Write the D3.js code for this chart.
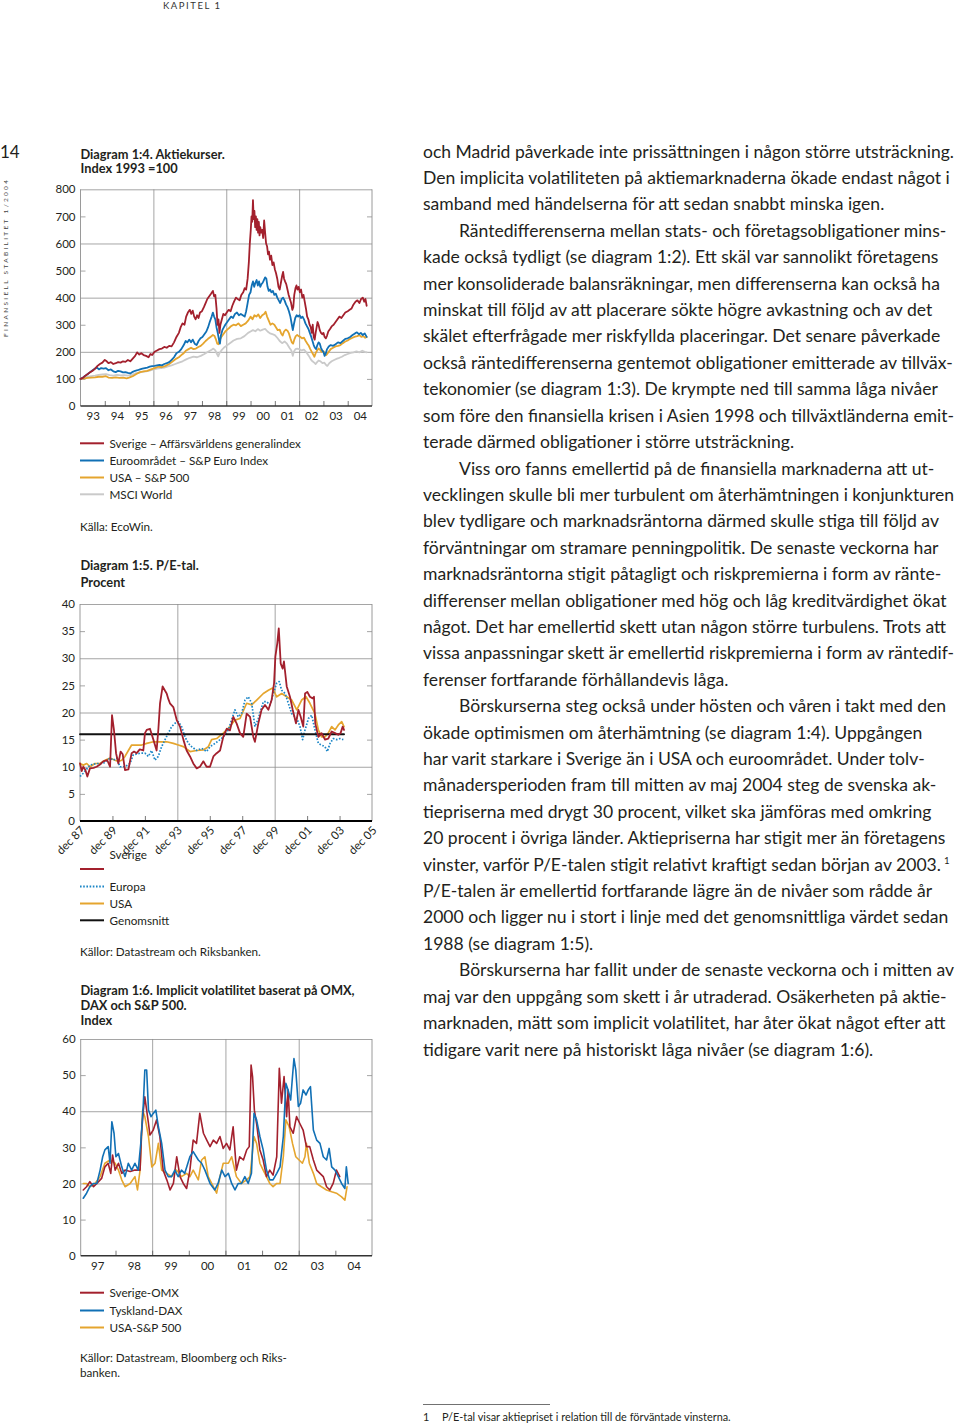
<!DOCTYPE html>
<html><head><meta charset="utf-8">
<script src="https://cdn.jsdelivr.net/npm/d3@7"></script>
<style>
body{margin:0;background:#fff;}
svg{display:block;}
</style></head><body>
<svg id="page" width="960" height="1427"></svg>
<script>
// ---------------- DATA ----------------
// Diagram 1:4 Aktiekurser (Index 1993 = 100) — [decimal year, index]
const c1XLabels = ["93","94","95","96","97","98","99","00","01","02","03","04"];
const c1YLabels = [0,100,200,300,400,500,600,700,800];
const sverigeIdx = [[1993.00,100],[1993.10,104],[1993.20,112],[1993.30,118],[1993.40,125],[1993.50,130],[1993.60,138],[1993.70,148],[1993.80,155],[1993.90,160],[1994.00,170],[1994.08,165],[1994.15,158],[1994.25,162],[1994.35,155],[1994.45,158],[1994.55,162],[1994.65,160],[1994.75,165],[1994.85,163],[1994.95,170],[1995.05,165],[1995.15,175],[1995.25,185],[1995.33,198],[1995.42,190],[1995.50,195],[1995.60,188],[1995.70,185],[1995.80,180],[1995.88,192],[1995.95,188],[1996.05,200],[1996.15,205],[1996.25,210],[1996.35,212],[1996.45,218],[1996.55,215],[1996.65,222],[1996.75,220],[1996.85,235],[1996.95,255],[1997.05,270],[1997.12,290],[1997.20,305],[1997.28,300],[1997.35,330],[1997.42,345],[1997.50,355],[1997.56,340],[1997.62,352],[1997.68,330],[1997.74,320],[1997.80,335],[1997.86,325],[1997.92,345],[1998.00,350],[1998.08,365],[1998.15,380],[1998.22,395],[1998.30,405],[1998.38,415],[1998.45,425],[1998.50,405],[1998.55,410],[1998.60,360],[1998.64,300],[1998.68,320],[1998.72,270],[1998.76,300],[1998.82,320],[1998.88,340],[1998.95,335],[1999.02,345],[1999.10,355],[1999.18,350],[1999.25,370],[1999.32,385],[1999.40,400],[1999.47,395],[1999.55,390],[1999.62,410],[1999.70,420],[1999.76,435],[1999.82,430],[1999.88,470],[1999.93,530],[1999.97,600],[2000.01,650],[2000.04,700],[2000.07,680],[2000.10,760],[2000.13,690],[2000.16,720],[2000.19,660],[2000.22,700],[2000.25,650],[2000.28,690],[2000.31,640],[2000.34,680],[2000.37,630],[2000.40,660],[2000.44,640],[2000.48,650],[2000.52,620],[2000.56,685],[2000.60,640],[2000.64,600],[2000.68,590],[2000.72,560],[2000.76,570],[2000.80,540],[2000.85,555],[2000.90,520],[2000.95,530],[2001.00,505],[2001.05,490],[2001.10,470],[2001.15,440],[2001.20,430],[2001.25,455],[2001.30,480],[2001.34,495],[2001.38,470],[2001.42,460],[2001.47,450],[2001.52,430],[2001.57,410],[2001.62,395],[2001.67,380],[2001.72,355],[2001.76,365],[2001.80,410],[2001.85,435],[2001.89,445],[2001.93,430],[2001.98,440],[2002.03,420],[2002.08,430],[2002.13,400],[2002.18,410],[2002.23,385],[2002.28,360],[2002.33,330],[2002.38,320],[2002.43,300],[2002.48,290],[2002.52,270],[2002.56,300],[2002.60,255],[2002.64,245],[2002.68,270],[2002.72,290],[2002.76,310],[2002.80,300],[2002.85,280],[2002.90,270],[2002.95,265],[2003.00,270],[2003.05,255],[2003.10,250],[2003.15,260],[2003.20,275],[2003.28,285],[2003.35,295],[2003.42,300],[2003.50,310],[2003.58,320],[2003.66,330],[2003.74,325],[2003.82,335],[2003.90,345],[2004.00,350],[2004.08,355],[2004.16,360],[2004.24,375],[2004.32,385],[2004.40,390],[2004.48,380],[2004.55,395],[2004.62,400],[2004.68,385],[2004.73,395],[2004.78,370]];
const euroIdx = [[1993.00,100],[1993.10,105],[1993.20,112],[1993.30,118],[1993.40,125],[1993.50,132],[1993.60,138],[1993.68,142],[1993.76,135],[1993.85,140],[1993.95,138],[1994.05,140],[1994.15,132],[1994.25,135],[1994.35,128],[1994.45,125],[1994.55,130],[1994.65,128],[1994.75,124],[1994.85,125],[1994.95,122],[1995.05,120],[1995.15,126],[1995.25,130],[1995.35,132],[1995.45,135],[1995.55,138],[1995.65,140],[1995.75,142],[1995.85,145],[1995.95,147],[1996.05,148],[1996.15,150],[1996.25,152],[1996.35,150],[1996.45,155],[1996.55,158],[1996.65,162],[1996.75,170],[1996.85,180],[1996.95,195],[1997.05,200],[1997.15,210],[1997.25,225],[1997.33,240],[1997.40,235],[1997.48,245],[1997.55,235],[1997.62,245],[1997.70,230],[1997.78,225],[1997.86,240],[1997.94,250],[1998.02,255],[1998.10,265],[1998.18,275],[1998.25,290],[1998.32,310],[1998.40,330],[1998.45,345],[1998.50,330],[1998.55,320],[1998.60,290],[1998.65,270],[1998.70,245],[1998.74,230],[1998.78,260],[1998.84,280],[1998.90,290],[1998.96,300],[1999.04,310],[1999.12,320],[1999.20,330],[1999.28,325],[1999.36,340],[1999.44,345],[1999.52,335],[1999.60,340],[1999.68,335],[1999.76,330],[1999.82,350],[1999.88,380],[1999.94,410],[2000.00,420],[2000.05,445],[2000.10,460],[2000.15,440],[2000.20,455],[2000.25,465],[2000.30,445],[2000.35,460],[2000.40,440],[2000.45,450],[2000.50,455],[2000.55,465],[2000.60,475],[2000.65,470],[2000.70,440],[2000.75,425],[2000.80,430],[2000.86,420],[2000.92,425],[2000.98,410],[2001.04,415],[2001.10,400],[2001.16,390],[2001.22,380],[2001.28,395],[2001.34,400],[2001.40,390],[2001.46,375],[2001.52,365],[2001.58,350],[2001.64,330],[2001.70,300],[2001.74,280],[2001.78,300],[2001.84,325],[2001.90,335],[2001.96,330],[2002.02,335],[2002.08,325],[2002.14,330],[2002.20,320],[2002.26,305],[2002.32,295],[2002.38,285],[2002.44,270],[2002.50,255],[2002.55,240],[2002.60,225],[2002.65,215],[2002.70,210],[2002.75,225],[2002.80,235],[2002.85,230],[2002.90,215],[2002.95,205],[2003.00,200],[2003.05,185],[2003.10,195],[2003.15,210],[2003.22,220],[2003.30,225],[2003.40,222],[2003.50,228],[2003.60,235],[2003.70,232],[2003.80,240],[2003.90,248],[2004.00,250],[2004.10,255],[2004.20,262],[2004.30,268],[2004.38,272],[2004.46,265],[2004.54,270],[2004.62,262],[2004.70,268],[2004.78,255]];
const usaIdx = [[1993.00,100],[1993.15,102],[1993.30,104],[1993.45,105],[1993.60,106],[1993.75,108],[1993.90,108],[1994.05,110],[1994.15,105],[1994.30,104],[1994.45,106],[1994.60,104],[1994.75,105],[1994.90,102],[1995.00,105],[1995.15,110],[1995.30,118],[1995.45,125],[1995.60,128],[1995.75,130],[1995.90,135],[1996.05,140],[1996.20,145],[1996.35,143],[1996.50,148],[1996.65,155],[1996.80,165],[1996.95,175],[1997.05,180],[1997.15,188],[1997.25,195],[1997.35,205],[1997.45,210],[1997.55,215],[1997.65,210],[1997.75,212],[1997.85,218],[1997.95,222],[1998.05,230],[1998.15,240],[1998.25,248],[1998.35,255],[1998.45,262],[1998.52,258],[1998.58,245],[1998.63,230],[1998.68,228],[1998.74,245],[1998.80,255],[1998.88,265],[1998.96,275],[1999.04,282],[1999.12,288],[1999.20,295],[1999.30,300],[1999.40,298],[1999.50,305],[1999.60,295],[1999.70,300],[1999.80,305],[1999.90,315],[2000.00,330],[2000.08,320],[2000.16,335],[2000.24,330],[2000.32,338],[2000.40,325],[2000.48,335],[2000.56,340],[2000.62,348],[2000.68,330],[2000.75,315],[2000.82,300],[2000.90,305],[2000.98,300],[2001.05,290],[2001.12,280],[2001.20,282],[2001.26,268],[2001.32,260],[2001.38,275],[2001.45,282],[2001.52,278],[2001.58,268],[2001.64,250],[2001.70,235],[2001.75,230],[2001.80,245],[2001.86,258],[2001.92,262],[2001.98,258],[2002.05,255],[2002.12,250],[2002.20,252],[2002.27,240],[2002.34,230],[2002.40,222],[2002.46,210],[2002.52,200],[2002.58,190],[2002.63,182],[2002.68,195],[2002.74,205],[2002.80,212],[2002.86,208],[2002.92,200],[2003.00,202],[2003.06,192],[2003.12,188],[2003.20,198],[2003.30,210],[2003.40,215],[2003.50,220],[2003.60,222],[2003.70,225],[2003.80,232],[2003.90,238],[2004.00,242],[2004.10,248],[2004.20,252],[2004.30,256],[2004.40,258],[2004.48,262],[2004.56,255],[2004.64,258],[2004.72,252],[2004.78,255]];
const msciIdx = [[1993.00,100],[1993.15,104],[1993.30,108],[1993.45,110],[1993.60,112],[1993.75,115],[1993.90,117],[1994.05,118],[1994.20,114],[1994.35,112],[1994.50,115],[1994.65,113],[1994.80,114],[1994.95,112],[1995.10,115],[1995.25,120],[1995.40,123],[1995.55,126],[1995.70,128],[1995.85,131],[1996.00,135],[1996.15,138],[1996.30,140],[1996.45,142],[1996.60,146],[1996.75,150],[1996.90,155],[1997.05,160],[1997.20,165],[1997.35,172],[1997.50,178],[1997.65,182],[1997.80,180],[1997.95,185],[1998.10,192],[1998.25,200],[1998.40,208],[1998.47,212],[1998.55,205],[1998.62,192],[1998.67,183],[1998.72,195],[1998.80,205],[1998.90,215],[1999.00,222],[1999.15,232],[1999.30,242],[1999.45,248],[1999.60,250],[1999.75,258],[1999.90,270],[2000.00,275],[2000.10,280],[2000.20,276],[2000.30,284],[2000.40,278],[2000.50,282],[2000.60,285],[2000.70,275],[2000.80,268],[2000.90,265],[2001.00,262],[2001.10,252],[2001.20,240],[2001.30,232],[2001.40,238],[2001.50,230],[2001.60,215],[2001.68,205],[2001.74,185],[2001.78,200],[2001.85,210],[2001.92,212],[2002.00,210],[2002.10,205],[2002.20,208],[2002.30,198],[2002.40,185],[2002.48,172],[2002.55,165],[2002.62,160],[2002.68,155],[2002.74,162],[2002.80,168],[2002.88,165],[2002.96,158],[2003.04,160],[2003.10,152],[2003.16,148],[2003.24,158],[2003.34,165],[2003.44,170],[2003.56,175],[2003.66,178],[2003.76,182],[2003.88,188],[2004.00,192],[2004.12,196],[2004.24,198],[2004.36,202],[2004.48,198],[2004.60,204],[2004.70,200],[2004.78,198]];

// Diagram 1:5 P/E-tal (Procent) — [decimal year, value]; "dec YY" = YY + 0.917
const c2XLabels = ["dec 87","dec 89","dec 91","dec 93","dec 95","dec 97","dec 99","dec 01","dec 03","dec 05"];
const c2YLabels = [0,5,10,15,20,25,30,35,40];
const sverigePE = [[1987.92,10.6],[1988.02,9.2],[1988.12,10],[1988.25,9.4],[1988.37,8.2],[1988.53,9.7],[1988.75,9.8],[1988.94,10],[1989.15,10.4],[1989.35,11],[1989.60,11.2],[1989.77,10],[1989.89,19.5],[1990.01,16.8],[1990.14,12.5],[1990.28,10.6],[1990.42,12.8],[1990.55,12.3],[1990.69,9.4],[1990.90,9.5],[1991.10,12.5],[1991.25,12.8],[1991.41,12.5],[1991.60,13.2],[1991.82,13],[1991.92,16.2],[1992.03,16.8],[1992.23,17],[1992.44,15],[1992.64,13],[1992.75,17],[1992.85,21.7],[1993.01,24.8],[1993.16,24],[1993.26,23.5],[1993.36,22.5],[1993.46,21.7],[1993.67,21],[1993.88,18.6],[1994.08,17.4],[1994.29,15],[1994.49,13],[1994.70,11.9],[1994.90,10.6],[1995.11,9.7],[1995.31,10],[1995.52,11],[1995.72,10],[1995.93,10],[1996.14,11.9],[1996.34,12.5],[1996.55,13],[1996.75,15.5],[1996.96,17],[1997.16,16.7],[1997.37,19.2],[1997.57,18],[1997.78,16.2],[1997.98,15.5],[1998.19,19.8],[1998.40,19.2],[1998.60,15.5],[1998.70,14.6],[1998.91,18],[1999.11,20.5],[1999.32,21.4],[1999.53,20.5],[1999.73,22.3],[1999.88,25.4],[1999.96,30.3],[2000.08,32.8],[2000.17,35.5],[2000.29,29],[2000.41,28.1],[2000.49,29.4],[2000.66,24.8],[2000.86,22.9],[2001.03,20.5],[2001.23,18],[2001.38,20.5],[2001.52,19.2],[2001.68,17.4],[2001.79,23.5],[2001.93,23.8],[2002.09,22.9],[2002.26,22.6],[2002.34,22.9],[2002.42,18],[2002.61,15.5],[2002.81,16.2],[2003.02,15],[2003.22,15.2],[2003.43,16.5],[2003.64,16.2],[2003.84,15.9],[2003.98,16.2],[2004.11,17.4],[2004.19,16.8]];
const europaPE = [[1987.92,8.2],[1988.12,8.8],[1988.53,10.3],[1988.94,10.6],[1989.35,10.6],[1989.77,11.6],[1989.97,11.2],[1990.18,11.6],[1990.38,10],[1990.69,10],[1991.00,10.6],[1991.20,12.2],[1991.61,12.5],[1991.92,12.5],[1992.13,11.9],[1992.33,13],[1992.54,11.2],[1992.74,11.9],[1992.95,13.7],[1993.16,15],[1993.36,16.2],[1993.57,17.4],[1993.77,18],[1993.98,18.3],[1994.18,17.4],[1994.39,15.5],[1994.60,14.3],[1994.80,13.7],[1995.11,13],[1995.42,13.4],[1995.72,12.8],[1995.93,13.7],[1996.24,14.3],[1996.55,15],[1996.75,15.5],[1997.06,16.8],[1997.26,18.6],[1997.47,20.5],[1997.67,19.2],[1997.88,19.8],[1998.09,22.3],[1998.29,22.9],[1998.50,21.7],[1998.70,17.4],[1998.91,18.9],[1999.22,22],[1999.42,22],[1999.63,21.4],[1999.83,23.5],[2000.04,25.4],[2000.20,25.7],[2000.35,24.1],[2000.56,23.5],[2000.76,21.7],[2000.97,19.8],[2001.28,18.9],[2001.48,17.4],[2001.64,15],[2001.79,16.8],[2002.00,18.9],[2002.20,19.5],[2002.40,16.8],[2002.61,14.3],[2002.81,14],[2003.02,13.7],[2003.16,12.8],[2003.33,14.3],[2003.53,15.2],[2003.74,15],[2003.94,15.2],[2004.15,15]];
const usaPE = [[1987.92,10.6],[1988.12,10.3],[1988.33,10.6],[1988.53,10],[1988.84,10.6],[1989.15,10.6],[1989.46,11.2],[1989.77,11.6],[1990.07,11.2],[1990.28,11],[1990.49,11.2],[1990.69,11.9],[1990.90,13],[1991.10,14],[1991.41,14],[1991.72,14],[1992.03,14.3],[1992.44,14.6],[1992.85,14.6],[1993.26,14.6],[1993.67,14.3],[1993.98,14],[1994.29,13.7],[1994.70,12.8],[1995.11,13],[1995.52,13.1],[1995.83,13.7],[1996.03,15],[1996.34,15.2],[1996.75,16.2],[1997.16,17.4],[1997.47,18.6],[1997.78,18.9],[1998.19,21.7],[1998.50,21.4],[1998.81,22.3],[1999.22,23.5],[1999.53,24.1],[1999.79,24.5],[2000.04,22.9],[2000.35,23.5],[2000.66,22.9],[2000.97,22.3],[2001.28,20.5],[2001.58,22.3],[2001.85,22.9],[2002.09,21.7],[2002.40,19.8],[2002.61,16.8],[2002.81,15.5],[2003.02,15.5],[2003.22,16.2],[2003.43,17.4],[2003.64,16.8],[2003.84,17.7],[2004.05,18.3],[2004.19,17.4]];
const genomsnittPE = [[1987.92,16],[2004.19,16]];

// Diagram 1:6 Implicit volatilitet (Index) — [decimal year, value]
const c3XLabels = ["97","98","99","00","01","02","03","04"];
const c3YLabels = [0,10,20,30,40,50,60];
const omxVol = [[1997.12,18.2],[1997.21,19.1],[1997.30,20.5],[1997.40,19.1],[1997.49,20],[1997.62,21.4],[1997.71,24.6],[1997.80,25.6],[1997.87,22.8],[1997.92,27.9],[1997.99,23.7],[1998.08,25.6],[1998.17,22.8],[1998.26,23.7],[1998.40,23.3],[1998.53,23.7],[1998.67,23.7],[1998.71,33.9],[1998.76,40.3],[1998.80,44],[1998.85,40.3],[1998.90,36.6],[1998.94,33.4],[1999.03,34.8],[1999.12,37.6],[1999.21,33],[1999.30,23.7],[1999.40,21],[1999.49,18.2],[1999.58,20],[1999.67,27.4],[1999.76,21.9],[1999.85,20],[1999.94,18.6],[2000.03,23.7],[2000.12,32],[2000.21,31.1],[2000.30,39.4],[2000.40,33.9],[2000.49,32],[2000.58,30.2],[2000.67,32],[2000.76,31.1],[2000.85,33],[2000.94,29.7],[2001.03,31.1],[2001.12,29.3],[2001.21,35.7],[2001.30,23.7],[2001.39,27.4],[2001.49,26.5],[2001.58,29.3],[2001.65,30.2],[2001.70,52.8],[2001.74,49.6],[2001.79,40.3],[2001.85,36.6],[2001.94,29.3],[2002.03,26.5],[2002.12,21.9],[2002.21,23.7],[2002.30,22.3],[2002.40,27.4],[2002.47,51.9],[2002.53,42.2],[2002.60,49.6],[2002.67,38.5],[2002.71,45.9],[2002.76,35.7],[2002.85,33.9],[2002.94,38.5],[2003.03,36.6],[2003.12,34.8],[2003.21,30.2],[2003.30,30.2],[2003.40,26.5],[2003.49,23.7],[2003.58,22.8],[2003.67,21.9],[2003.76,19.1],[2003.85,18.2],[2003.94,20],[2004.03,23.7],[2004.12,21.9]];
const daxVol = [[1997.12,15.9],[1997.21,17.3],[1997.30,19.1],[1997.40,20],[1997.49,20],[1997.58,23.7],[1997.65,27.4],[1997.71,29.3],[1997.80,30.2],[1997.85,25.6],[1997.90,37.1],[1997.96,33.9],[1998.01,27.4],[1998.08,28.3],[1998.17,24.6],[1998.26,21.9],[1998.35,25.6],[1998.44,23.7],[1998.53,25.6],[1998.62,23.7],[1998.69,31.1],[1998.76,42.2],[1998.80,51.4],[1998.85,51.4],[1998.90,40.3],[1998.97,38.5],[1999.03,39.4],[1999.10,40.3],[1999.17,35.7],[1999.26,31.1],[1999.35,23.7],[1999.44,21.9],[1999.53,21.9],[1999.62,23.7],[1999.71,21.9],[1999.80,23.7],[1999.89,22.8],[2000.03,27.4],[2000.12,28.8],[2000.26,26.5],[2000.35,25.6],[2000.44,23.7],[2000.58,20],[2000.71,18.2],[2000.80,20],[2000.90,23.7],[2000.99,21.9],[2001.08,22.8],[2001.17,20],[2001.26,18.2],[2001.35,20],[2001.44,20],[2001.53,21.9],[2001.62,20],[2001.71,22.8],[2001.78,39.4],[2001.85,37.6],[2001.94,33],[2002.03,29.3],[2002.12,23.7],[2002.21,21],[2002.30,21],[2002.40,22.8],[2002.49,24.6],[2002.58,33],[2002.65,47.7],[2002.71,45.9],[2002.78,43.1],[2002.83,49.6],[2002.87,54.6],[2002.92,51.4],[2002.99,41.3],[2003.05,42.2],[2003.12,45.9],[2003.20,44.5],[2003.26,45.9],[2003.32,46.8],[2003.40,34.8],[2003.49,32],[2003.58,31.1],[2003.67,27.4],[2003.76,26.5],[2003.83,29.7],[2003.90,24.6],[2003.99,23.7],[2004.08,21.9],[2004.17,20],[2004.26,18.6],[2004.30,24.6],[2004.35,20]];
const spVol = [[1997.12,20],[1997.21,20],[1997.30,19.1],[1997.44,20],[1997.58,21.9],[1997.71,25.6],[1997.85,26.5],[1997.99,25.6],[1998.08,23.7],[1998.17,21],[1998.26,19.1],[1998.40,20],[1998.53,21.9],[1998.60,18.2],[1998.67,23.7],[1998.74,40.3],[1998.80,38.5],[1998.90,33],[1998.99,24.6],[1999.08,25.6],[1999.17,31.1],[1999.26,23.7],[1999.40,22.8],[1999.53,21.9],[1999.67,23.7],[1999.80,21.9],[1999.94,22.8],[2000.03,21.9],[2000.12,23.7],[2000.26,21],[2000.35,26.5],[2000.44,27.4],[2000.53,21.9],[2000.67,19.1],[2000.76,17.3],[2000.85,21.9],[2000.94,25.6],[2001.08,25.6],[2001.17,27.4],[2001.30,21.9],[2001.44,20],[2001.58,21],[2001.67,21.9],[2001.78,33],[2001.85,31.1],[2001.94,25.6],[2002.03,23.7],[2002.12,21.9],[2002.21,20],[2002.30,19.1],[2002.40,20],[2002.49,20],[2002.58,27.4],[2002.65,37.6],[2002.74,35.7],[2002.83,31.1],[2002.92,27.4],[2003.01,26.5],[2003.10,25.6],[2003.17,27.4],[2003.21,31.1],[2003.29,25.6],[2003.40,22.8],[2003.49,20],[2003.62,19.1],[2003.76,18.2],[2003.90,17.7],[2004.03,17.3],[2004.17,16.3],[2004.26,15.4],[2004.32,19.1]];

// Body text lines: [text, indent]
const bodyLines = [
["och Madrid påverkade inte prissättningen i någon större utsträckning.",0],
["Den implicita volatiliteten på aktiemarknaderna ökade endast något i",0],
["samband med händelserna för att sedan snabbt minska igen.",0],
["Räntedifferenserna mellan stats- och företagsobligationer mins-",1],
["kade också tydligt (se diagram 1:2). Ett skäl var sannolikt företagens",0],
["mer konsoliderade balansräkningar, men differenserna kan också ha",0],
["minskat till följd av att placerare sökte högre avkastning och av det",0],
["skälet efterfrågade mer riskfyllda placeringar. Det senare påverkade",0],
["också räntedifferenserna gentemot obligationer emitterade av tillväx-",0],
["tekonomier (se diagram 1:3). De krympte ned till samma låga nivåer",0],
["som före den finansiella krisen i Asien 1998 och tillväxtländerna emit-",0],
["terade därmed obligationer i större utsträckning.",0],
["Viss oro fanns emellertid på de finansiella marknaderna att ut-",1],
["vecklingen skulle bli mer turbulent om återhämtningen i konjunkturen",0],
["blev tydligare och marknadsräntorna därmed skulle stiga till följd av",0],
["förväntningar om stramare penningpolitik. De senaste veckorna har",0],
["marknadsräntorna stigit påtagligt och riskpremierna i form av ränte-",0],
["differenser mellan obligationer med hög och låg kreditvärdighet ökat",0],
["något. Det har emellertid skett utan någon större turbulens. Trots att",0],
["vissa anpassningar skett är emellertid riskpremierna i form av räntedif-",0],
["ferenser fortfarande förhållandevis låga.",0],
["Börskurserna steg också under hösten och våren i takt med den",1],
["ökade optimismen om återhämtning (se diagram 1:4). Uppgången",0],
["har varit starkare i Sverige än i USA och euroområdet. Under tolv-",0],
["månadersperioden fram till mitten av maj 2004 steg de svenska ak-",0],
["tiepriserna med drygt 30 procent, vilket ska jämföras med omkring",0],
["20 procent i övriga länder. Aktiepriserna har stigit mer än företagens",0],
["vinster, varför P/E-talen stigit relativt kraftigt sedan början av 2003.",0],
["P/E-talen är emellertid fortfarande lägre än de nivåer som rådde år",0],
["2000 och ligger nu i stort i linje med det genomsnittliga värdet sedan",0],
["1988 (se diagram 1:5).",0],
["Börskurserna har fallit under de senaste veckorna och i mitten av",1],
["maj var den uppgång som skett i år utraderad. Osäkerheten på aktie-",0],
["marknaden, mätt som implicit volatilitet, har åter ökat något efter att",0],
["tidigare varit nere på historiskt låga nivåer (se diagram 1:6).",0]
];

// ---------------- DRAWING ----------------
const FONT = "Lato, 'Open Sans', sans-serif";
const INK = '#231f20';
const GRID = '#8e8e8e';
const COL = {red:'#a3202d', blue:'#1170b5', orange:'#e5a52e', gray:'#cacaca', black:'#111111', dot:'#1b86c6'};
const CHART_FS = 11.7, TITLE_FS = 12.8, TICK_FS = 11.5;
const svg = d3.select('#page').attr('font-family', FONT);

function txt(x, y, s, opt={}){
  const t = svg.append('text').attr('x',x).attr('y',y).text(s)
    .attr('font-size', opt.size||CHART_FS).attr('fill', opt.fill||INK)
    .attr('font-weight', opt.weight||400);
  if(opt.anchor) t.attr('text-anchor',opt.anchor);
  if(opt.ls) t.attr('letter-spacing',opt.ls);
  return t;
}

function styleAxis(s, fs){
  s.select('.domain').remove();
  s.selectAll('text').attr('font-size',fs||TICK_FS).attr('font-family',FONT).attr('fill',INK);
}

function drawChart(o){
  const g = svg.append('g');
  const x = d3.scaleLinear().domain(o.xDomain).range(o.xRange);
  const y = d3.scaleLinear().domain(o.yDomain).range(o.yRange);
  const L=o.xRange[0], R=o.xRange[1], B=o.yRange[0], T=o.yRange[1];
  g.append('g').attr('transform',`translate(${L},0)`)
    .call(d3.axisRight(y).tickValues(o.yMajor).tickSize(R-L).tickFormat(''))
    .call(s=>{s.select('.domain').remove(); s.selectAll('line').attr('stroke',GRID).attr('stroke-width',0.8);});
  g.append('g').attr('transform',`translate(${L},0)`)
    .call(d3.axisRight(y).tickValues(o.yMinor).tickSize(5).tickFormat(''))
    .call(s=>{s.select('.domain').remove(); s.selectAll('line').attr('stroke',GRID).attr('stroke-width',0.8);});
  g.append('g').attr('transform',`translate(${R},0)`)
    .call(d3.axisLeft(y).tickValues(o.yMinor).tickSize(5).tickFormat(''))
    .call(s=>{s.select('.domain').remove(); s.selectAll('line').attr('stroke',GRID).attr('stroke-width',0.8);});
  g.append('g').attr('transform',`translate(0,${B})`)
    .call(d3.axisTop(x).tickValues(o.vGrid).tickSize(B-T).tickFormat(''))
    .call(s=>{s.select('.domain').remove(); s.selectAll('line').attr('stroke',GRID).attr('stroke-width',0.8);});
  g.append('line').attr('x1',L).attr('x2',L).attr('y1',T).attr('y2',B).attr('stroke',GRID).attr('stroke-width',0.9);
  g.append('line').attr('x1',R).attr('x2',R).attr('y1',T).attr('y2',B).attr('stroke',GRID).attr('stroke-width',0.9);
  g.append('g').attr('transform',`translate(0,${B})`)
    .call(d3.axisTop(x).tickValues(o.xTicks).tickSize(5).tickFormat(''))
    .call(s=>{s.select('.domain').remove(); s.selectAll('line').attr('stroke','#555').attr('stroke-width',0.8);});
  const line = d3.line().x(d=>x(d[0])).y(d=>y(d[1]));
  o.series.forEach(s=>{
    g.append('path').datum(s.data).attr('d',line).attr('fill','none')
      .attr('stroke',s.color).attr('stroke-width',s.w||1.4)
      .attr('stroke-dasharray',s.dash||null)
      .attr('stroke-linejoin','round').attr('stroke-linecap', s.dash?'butt':'round');
  });
  g.append('line').attr('x1',L).attr('x2',R).attr('y1',B).attr('y2',B)
    .attr('stroke',o.axisColor||'#333').attr('stroke-width',o.axisW||1.4);
  g.append('g').attr('transform',`translate(${L},0)`)
    .call(d3.axisLeft(y).tickValues(o.yLabels).tickSize(0).tickPadding(5).tickFormat(d=>d))
    .call(s=>styleAxis(s,TICK_FS));
  if(o.rotated){
    const ax = g.append('g').attr('transform',`translate(0,${B})`)
      .call(d3.axisBottom(x).tickValues(o.xLabelPos).tickSize(0).tickFormat((d,i)=>o.xLabels[i]))
      .call(s=>styleAxis(s,TICK_FS));
    ax.selectAll('text').attr('text-anchor','end').attr('dy',null).attr('y',null)
      .attr('transform','translate(5,10) rotate(-45)');
  } else {
    g.append('g').attr('transform',`translate(0,${B})`)
      .call(d3.axisBottom(x).tickValues(o.xLabelPos).tickSize(0).tickPadding(6).tickFormat((d,i)=>o.xLabels[i]))
      .call(s=>styleAxis(s,TICK_FS));
  }
  return g;
}

function legend(items, x0, x1, tx){
  items.forEach(it=>{
    if(it.color){
      svg.append('line').attr('x1',x0).attr('x2',x1).attr('y1',it.y).attr('y2',it.y)
        .attr('stroke',it.color).attr('stroke-width',2).attr('stroke-dasharray',it.dash||null);
    }
    if(it.label) txt(tx, (it.ty||it.y)+4.2, it.label, {size:CHART_FS});
  });
}

// ---- header / margin ----
txt(163, 9, "KAPITEL 1", {size:9.5, fill:'#333', ls:2}).attr('textLength',59);
txt(0, 158, "14", {size:17, fill:INK});
svg.append('text').attr('transform','translate(8,337) rotate(-90)')
  .attr('font-size',6.5).attr('fill','#444').attr('letter-spacing',2)
  .attr('textLength',159).text("FINANSIELL STABILITET 1/2004");

// ---- Chart 1 ----
txt(80.5, 158.8, "Diagram 1:4. Aktiekurser.", {size:TITLE_FS, weight:700});
txt(80.5, 173, "Index 1993 =100", {size:TITLE_FS, weight:700});
drawChart({
  xDomain:[1993,2005], xRange:[80.5,372], yDomain:[0,800], yRange:[406,189.3],
  yMajor:[200,400,600,800], yMinor:[100,300,500,700], yLabels:c1YLabels,
  vGrid:[1996,1999,2002], xTicks:d3.range(1994,2005),
  xLabelPos:c1XLabels.map((d,i)=>1993.5+i), xLabels:c1XLabels,
  series:[
    {data:msciIdx, color:COL.gray, w:1.8},
    {data:usaIdx, color:COL.orange, w:1.8},
    {data:euroIdx, color:COL.blue, w:1.8},
    {data:sverigeIdx, color:COL.red, w:1.8}
  ]
});
legend([
  {y:443.3, color:COL.red, label:"Sverige – Affärsvärldens generalindex"},
  {y:460.5, color:COL.blue, label:"Euroområdet – S&P Euro Index"},
  {y:477.5, color:COL.orange, label:"USA – S&P 500"},
  {y:494.3, color:COL.gray, label:"MSCI World"}
], 80, 104, 109.5);
txt(80, 530.5, "Källa: EcoWin.", {size:CHART_FS});

// ---- Chart 2 ----
txt(80.5, 569.6, "Diagram 1:5. P/E-tal.", {size:TITLE_FS, weight:700});
txt(80.5, 587.3, "Procent", {size:TITLE_FS, weight:700});
drawChart({
  xDomain:[1987.917,2005.917], xRange:[80,372], yDomain:[0,40], yRange:[821,604],
  yMajor:[10,20,30,40], yMinor:[5,15,25,35], yLabels:c2YLabels,
  vGrid:[1993.917,1999.917], xTicks:[1989.917,1991.917,1995.917,1997.917,2001.917,2003.917],
  xLabelPos:c2XLabels.map((d,i)=>1987.917+2*i), xLabels:c2XLabels, rotated:true,
  axisColor:'#000', axisW:2,
  series:[
    {data:usaPE, color:COL.orange, w:1.7},
    {data:europaPE, color:COL.dot, w:1.7, dash:'1.6,1.6'},
    {data:genomsnittPE, color:COL.black, w:2},
    {data:sverigePE, color:COL.red, w:1.8}
  ]
});
legend([
  {y:869, color:COL.red, label:"Sverige", ty:855},
  {y:886.5, color:COL.dot, dash:'1.6,1.6', label:"Europa"},
  {y:903.5, color:COL.orange, label:"USA"},
  {y:920.3, color:COL.black, label:"Genomsnitt"}
], 80, 104, 109.5);
txt(80, 955.5, "Källor: Datastream och Riksbanken.", {size:CHART_FS});

// ---- Chart 3 ----
txt(80.5, 995.2, "Diagram 1:6. Implicit volatilitet baserat på OMX,", {size:TITLE_FS, weight:700});
txt(80.5, 1009.5, "DAX och S&P 500.", {size:TITLE_FS, weight:700});
txt(80.5, 1024.5, "Index", {size:TITLE_FS, weight:700});
drawChart({
  xDomain:[1997.05,2005], xRange:[80.7,372], yDomain:[0,60], yRange:[1255.7,1039],
  yMajor:[20,40,60], yMinor:[10,30,50], yLabels:c3YLabels,
  vGrid:[1999,2001,2003], xTicks:d3.range(1998,2005),
  xLabelPos:c3XLabels.map((d,i)=>1997.5+i), xLabels:c3XLabels,
  series:[
    {data:spVol, color:COL.orange, w:1.6},
    {data:omxVol, color:COL.red, w:1.6},
    {data:daxVol, color:COL.blue, w:1.6}
  ]
});
legend([
  {y:1292.7, color:COL.red, label:"Sverige-OMX"},
  {y:1310.5, color:COL.blue, label:"Tyskland-DAX"},
  {y:1327.5, color:COL.orange, label:"USA-S&P 500"}
], 80, 104, 109.5);
txt(80, 1361.9, "Källor: Datastream, Bloomberg och Riks-", {size:CHART_FS});
txt(80, 1376.9, "banken.", {size:CHART_FS});

// ---- Body text ----
const probe = svg.append('text').attr('font-size',17).attr('font-family',FONT);
probe.text(bodyLines[0][0]); const w1 = probe.node().getComputedTextLength();
probe.text(bodyLines[13][0]); const w2 = probe.node().getComputedTextLength();
probe.remove();
const bodyFS = 17 * 533 / ((w1+w2)/2);
bodyLines.forEach((l,i)=>{
  const x0 = l[1]?459:423;
  const t = svg.append('text').attr('x', x0).attr('y', 152 + i*26.41 + 5.6)
    .attr('font-size', bodyFS).attr('fill', INK).text(l[0]);
  const maxW = (i===27 ? 942 : 954) - x0;
  if(t.node().getComputedTextLength() > maxW){
    t.attr('textLength', maxW).attr('lengthAdjust','spacingAndGlyphs');
  }
  if(i===27){
    svg.append('text').attr('x', 944).attr('y', 152 + i*26.41 - 1)
      .attr('font-size', bodyFS*0.55).attr('fill', INK).text("1");
  }
});

// ---- Footnote ----
svg.append('line').attr('x1',423).attr('x2',550).attr('y1',1404.5).attr('y2',1404.5).attr('stroke','#333').attr('stroke-width',0.7);
txt(423, 1421, "1", {size:10.9});
txt(442, 1421, "P/E-tal visar aktiepriset i relation till de förväntade vinsterna.", {size:10.9});
</script>
</body></html>
